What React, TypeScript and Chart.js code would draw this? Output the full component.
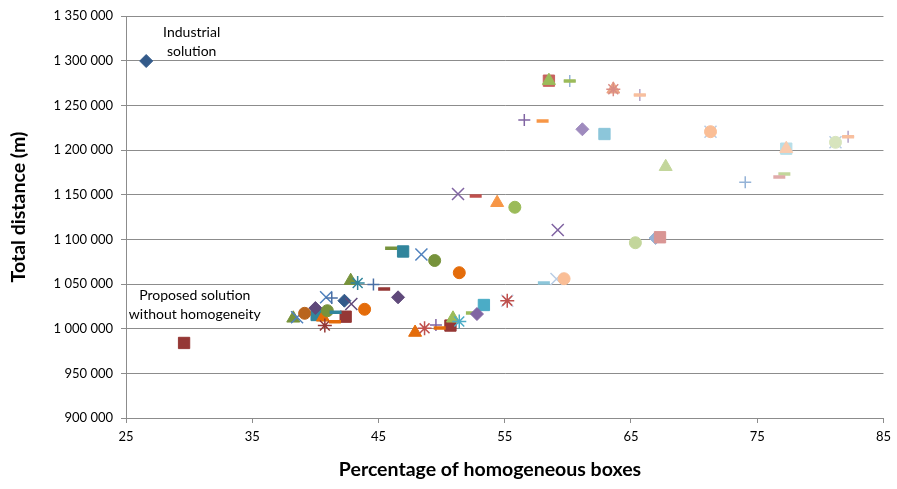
import { useEffect, useRef } from 'react';
import { Chart, registerables } from 'chart.js';

Chart.register(...registerables);

// ---- Axis settings ----
const xMin = 25;
const xMax = 85;
const xStep = 10;
const yMin = 900000;
const yMax = 1350000;
const yStep = 50000;
const xTitle = 'Percentage of homogeneous boxes';
const yTitle = 'Total distance (m)';

// ---- Data: [percentage of homogeneous boxes, total distance] ----
const greenDashesLow = [[52.4, 1017500]];
const lightBlueDiamonds = [[66.95, 1101500]];
const darkBlueDiamonds = [[26.6, 1299600], [42.3, 1031300]];
const darkRedSquares = [[29.6, 984000], [42.4, 1013400], [50.7, 1003500]];
const tealSquares = [[46.95, 1086400], [40.1, 1015300]];
const aquaSquares = [[53.35, 1026500]];
const lightAquaSquares = [[62.9, 1217900]];
const paleAquaSquares = [[77.3, 1201500]];
const redSquares = [[58.5, 1277600]];
const pinkSquares = [[67.3, 1102300]];
const darkPurpleDiamonds = [[46.55, 1035100], [40.0, 1023100]];
const purpleDiamonds = [[52.8, 1016400]];
const lightPurpleDiamonds = [[61.15, 1223200]];
const oliveTriangles = [[38.25, 1011600], [42.8, 1053700]];
const greenTriangles = [[58.5, 1277600], [50.9, 1011600]];
const lightGreenTriangles = [[67.75, 1181300]];
const orangeTriangles = [[54.4, 1141000]];
const darkOrangeTriangles = [[47.9, 995700], [40.6, 1012700]];
const salmonTriangles = [[63.6, 1268000]];
const paleSalmonTriangles = [[77.3, 1201500]];
const lightBlueCrosses = [[59.1, 1055600], [71.3, 1220500], [81.2, 1208600], [55.2, 1031300]];
const purpleCrosses = [[51.3, 1150700], [59.2, 1110400]];
const darkPurpleCrosses = [[42.85, 1027600]];
const blueCrosses = [[48.4, 1083000], [40.85, 1035100], [38.55, 1012700]];
const aquaStars = [[51.4, 1008000]];
const tealStars = [[43.35, 1051100]];
const redStars = [[55.2, 1031300], [48.65, 1000400]];
const darkRedStars = [[40.75, 1003500]];
const pinkStars = [[63.6, 1268000]];
const greenCircles = [[55.8, 1135900]];
const oliveCircles = [[49.45, 1076300], [40.95, 1020100]];
const lightGreenCircles = [[65.35, 1096200]];
const paleGreenCircles = [[81.2, 1208600]];
const darkOrangeCircles = [[51.4, 1062650], [43.9, 1021700]];
const brownCircles = [[39.15, 1017200]];
const salmonCircles = [[59.7, 1055900], [71.3, 1220500]];
const bluePluses = [[44.6, 1049400], [41.3, 1034300]];
const purplePluses = [[56.55, 1233600], [49.55, 1004100]];
const lightBluePluses = [[74.05, 1163800], [60.15, 1277200]];
const lightPurplePluses = [[82.2, 1214900], [65.7, 1261600]];
const orangeDashes = [[58.0, 1232500]];
const darkOrangeDashes = [[49.85, 1000750], [41.55, 1007800]];
const redDashes = [[52.7, 1148500]];
const darkRedDashes = [[45.45, 1044400]];
const oliveDashes = [[46.0, 1090000]];
const tealDashes = [[41.6, 1018300]];
const lightAquaDashes = [[58.1, 1051100]];
const lightGreenDashes = [[77.15, 1173100]];
const pinkDashes = [[76.75, 1169800]];
const salmonDashes = [[65.7, 1261600], [82.2, 1214900]];
const greenDashes = [[60.15, 1277200]];

// ---- Annotations ----
const annotations = [
  { x: 30.2, y: 1331000, lines: ['Industrial', 'solution'] },
  { x: 30.45, y: 1036600, lines: ['Proposed solution', 'without homogeneity'] },
];

// ---- Marker styles (drawing order: first = bottom) ----
type Marker = { pts: number[][]; shape: string; color: string };
const markers: Marker[] = [
  { pts: greenDashesLow, shape: 'dash', color: '#9BBB59' },
  { pts: lightBlueDiamonds, shape: 'diamond', color: '#95B3D7' },
  { pts: darkBlueDiamonds, shape: 'diamond', color: '#335A8A' },
  { pts: darkRedSquares, shape: 'square', color: '#953735' },
  { pts: tealSquares, shape: 'square', color: '#31859C' },
  { pts: aquaSquares, shape: 'square', color: '#4BACC6' },
  { pts: lightAquaSquares, shape: 'square', color: '#8CC6DA' },
  { pts: paleAquaSquares, shape: 'square', color: '#B7DEE8' },
  { pts: redSquares, shape: 'square', color: '#C8645F' },
  { pts: pinkSquares, shape: 'square', color: '#D99694' },
  { pts: darkPurpleDiamonds, shape: 'diamond', color: '#5F497A' },
  { pts: purpleDiamonds, shape: 'diamond', color: '#8064A2' },
  { pts: lightPurpleDiamonds, shape: 'diamond', color: '#9F8BBE' },
  { pts: oliveTriangles, shape: 'triangle', color: '#77933C' },
  { pts: greenTriangles, shape: 'triangle', color: '#9BBB59' },
  { pts: lightGreenTriangles, shape: 'triangle', color: '#C3D69B' },
  { pts: orangeTriangles, shape: 'triangle', color: '#F79646' },
  { pts: darkOrangeTriangles, shape: 'triangle', color: '#E46C0A' },
  { pts: salmonTriangles, shape: 'triangle', color: '#EBA384' },
  { pts: paleSalmonTriangles, shape: 'triangle', color: '#F9CBAE' },
  { pts: lightBlueCrosses, shape: 'x', color: '#B9CDE5' },
  { pts: purpleCrosses, shape: 'x', color: '#8064A2' },
  { pts: darkPurpleCrosses, shape: 'x', color: '#604A7B' },
  { pts: blueCrosses, shape: 'x', color: '#4F81BD' },
  { pts: aquaStars, shape: 'star', color: '#4BACC6' },
  { pts: tealStars, shape: 'star', color: '#31859C' },
  { pts: redStars, shape: 'star', color: '#C0504D' },
  { pts: darkRedStars, shape: 'star', color: '#953735' },
  { pts: pinkStars, shape: 'star', color: '#D98C84' },
  { pts: greenCircles, shape: 'circle', color: '#9BBB59' },
  { pts: oliveCircles, shape: 'circle', color: '#77933C' },
  { pts: lightGreenCircles, shape: 'circle', color: '#C3D69B' },
  { pts: paleGreenCircles, shape: 'circle', color: '#D7E4BD' },
  { pts: darkOrangeCircles, shape: 'circle', color: '#E46C0A' },
  { pts: brownCircles, shape: 'circle', color: '#B9651E' },
  { pts: salmonCircles, shape: 'circle', color: '#FABE96' },
  { pts: bluePluses, shape: 'plus', color: '#4A6FA5' },
  { pts: purplePluses, shape: 'plus', color: '#8064A2' },
  { pts: lightBluePluses, shape: 'plus', color: '#95B3D7' },
  { pts: lightPurplePluses, shape: 'plus', color: '#B3A2C7' },
  { pts: orangeDashes, shape: 'dash', color: '#F79646' },
  { pts: darkOrangeDashes, shape: 'dash', color: '#E46C0A' },
  { pts: redDashes, shape: 'dash', color: '#C0504D' },
  { pts: darkRedDashes, shape: 'dash', color: '#953735' },
  { pts: oliveDashes, shape: 'dash', color: '#77933C' },
  { pts: tealDashes, shape: 'dash', color: '#31859C' },
  { pts: lightAquaDashes, shape: 'dash', color: '#8CC6DA' },
  { pts: lightGreenDashes, shape: 'dash', color: '#C3D69B' },
  { pts: pinkDashes, shape: 'dash', color: '#E0ABAA' },
  { pts: salmonDashes, shape: 'dash', color: '#F8BF9E' },
  { pts: greenDashes, shape: 'dash', color: '#9BBB59' },
];

const shapeStyle: Record<string, { pointStyle: string; radius: number; bw: number }> = {
  diamond: { pointStyle: 'rectRot', radius: 6.5, bw: 1 },
  square: { pointStyle: 'rect', radius: 8, bw: 1 },
  triangle: { pointStyle: 'triangle', radius: 7.5, bw: 1 },
  circle: { pointStyle: 'circle', radius: 6, bw: 1 },
  x: { pointStyle: 'crossRot', radius: 8.5, bw: 1.5 },
  star: { pointStyle: 'star', radius: 7, bw: 1.5 },
  plus: { pointStyle: 'cross', radius: 6, bw: 1.5 },
  dash: { pointStyle: 'line', radius: 6, bw: 3.5 },
};

const FONT = 'Lato, "Open Sans", sans-serif';
const fmt = (v: number) => String(v).replace(/\B(?=(\d{3})+(?!\d))/g, ' ');

const textPlugin = {
  id: 'textPlugin',
  afterDraw(chart: any) {
    const ctx = chart.ctx;
    const xs = chart.scales.x;
    const ys = chart.scales.y;
    ctx.save();
    ctx.fillStyle = '#000';
    ctx.textAlign = 'center';
    ctx.textBaseline = 'middle';
    ctx.font = `14px ${FONT}`;
    annotations.forEach((a) => {
      const px = xs.getPixelForValue(a.x);
      const py = ys.getPixelForValue(a.y);
      a.lines.forEach((l, i) => ctx.fillText(l, px, py + i * 19));
    });
    ctx.font = `bold 19.5px ${FONT}`;
    ctx.fillText(xTitle, 490, 470);
    ctx.translate(19, 207);
    ctx.rotate(-Math.PI / 2);
    ctx.fillText(yTitle, 0, 0);
    ctx.restore();
  },
};

export default function App() {
  const ref = useRef<HTMLCanvasElement>(null);
  useEffect(() => {
    if (!ref.current) return;
    const n = markers.length;
    const datasets = markers.map((m, i) => {
      const s = shapeStyle[m.shape];
      return {
        label: `S${i + 1}`,
        data: m.pts.map(([x, y]) => ({ x, y })),
        pointStyle: s.pointStyle,
        pointRadius: s.radius,
        pointHoverRadius: s.radius,
        pointBorderWidth: s.bw,
        backgroundColor: m.color,
        borderColor: m.color,
        showLine: false,
        order: n - i,
      };
    });
    const chart = new Chart(ref.current, {
      type: 'scatter',
      data: { datasets: datasets as any },
      plugins: [textPlugin],
      options: {
        animation: false,
        responsive: true,
        maintainAspectRatio: false,
        layout: { padding: { top: 16, right: 13, left: 0, bottom: 0 } },
        plugins: { legend: { display: false }, tooltip: { enabled: false } },
        scales: {
          x: {
            type: 'linear',
            min: xMin,
            max: xMax,
            afterFit: (s: any) => { s.height = 71; },
            ticks: {
              stepSize: xStep,
              color: '#000',
              font: { family: FONT, size: 13 },
              padding: 6,
              maxRotation: 0,
            },
            grid: { drawOnChartArea: false, drawTicks: true, tickLength: 5, color: '#8C8C8C' },
            border: { display: true, color: '#8C8C8C' },
          },
          y: {
            type: 'linear',
            min: yMin,
            max: yMax,
            afterFit: (s: any) => { s.width = 126; },
            ticks: {
              stepSize: yStep,
              color: '#000',
              font: { family: FONT, size: 13 },
              padding: 8,
              callback: (v: any) => fmt(Number(v)),
            },
            grid: { drawOnChartArea: true, drawTicks: true, tickLength: 5, color: '#8C8C8C' },
            border: { display: true, color: '#8C8C8C' },
          },
        },
      },
    });
    return () => chart.destroy();
  }, []);
  return (
    <div style={{ position: 'absolute', left: 0, top: 0, width: 897, height: 489, background: '#fff' }}>
      <canvas ref={ref} />
    </div>
  );
}
